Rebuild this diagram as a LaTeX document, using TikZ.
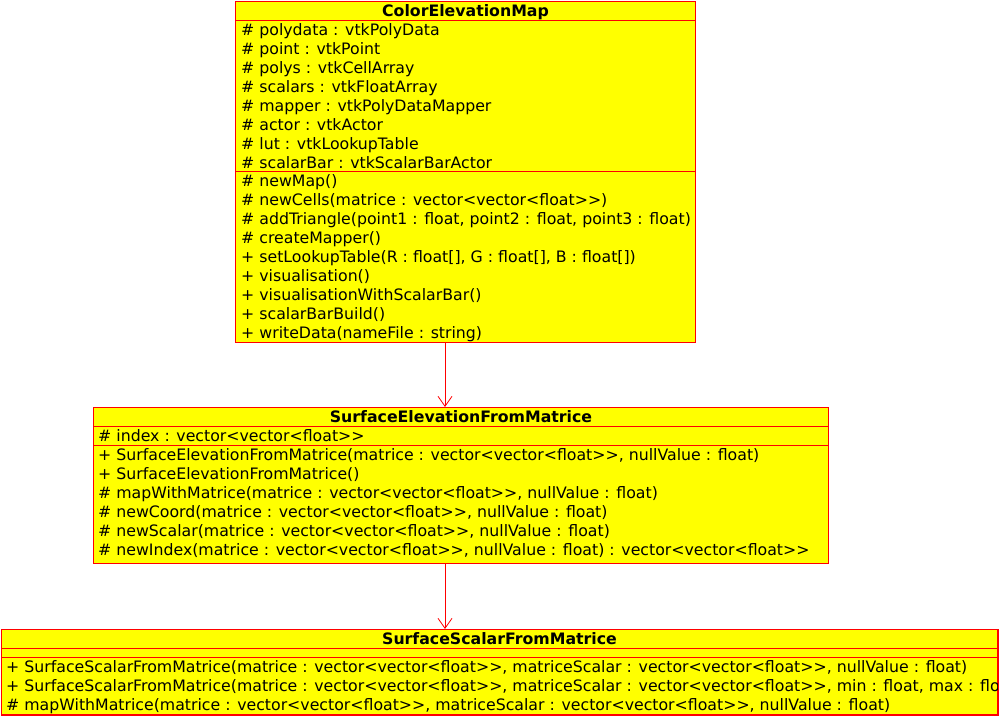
\documentclass[tikz,border=0pt]{standalone}
\usepackage{fontspec}
\setmainfont{DejaVu Sans}
\usetikzlibrary{positioning,arrows.meta,calc}
\definecolor{umlred}{RGB}{255,0,0}
\definecolor{umlyellow}{RGB}{255,255,0}

\begin{document}
\begin{tikzpicture}
  [
    x=1pt, y=-1pt,
    font=\fontsize{15.75}{18}\selectfont,
    class box/.style={draw=umlred, fill=umlyellow, line width=1pt, inner sep=0pt, anchor=north west},
    class title/.style={font=\fontsize{15.75}{18}\selectfont\bfseries, inner sep=0pt, text height=11.5pt, text depth=0.5pt},
    member/.style={anchor=west, inner sep=0pt, text height=11.5pt, text depth=0.5pt},
    sep line/.style={draw=umlred, line width=1pt},
    dep arrow/.style={draw=umlred, line width=0.8pt, -{Straight Barb[length=10pt,width=14pt]}},
  ]

  \useasboundingbox (0,0) rectangle (1000,715);
  \coordinate (arrx) at (445,0);

  % ColorElevationMap
  \node[class box, minimum width=460pt, minimum height=341pt] (cem) at (235,1) {};
  \node[class title] at ($(cem.north)+(0,9.5)$) {ColorElevationMap};
  \draw[sep line] ($(cem.north west)+(0,19)$) -- ($(cem.north east)+(0,19)$);
  \draw[sep line] ($(cem.north west)+(0,170)$) -- ($(cem.north east)+(0,170)$);
  \foreach \txt [count=\i] in {{\# polydata : vtkPolyData}, {\# point : vtkPoint},
      {\# polys : vtkCellArray}, {\# scalars : vtkFloatArray},
      {\# mapper : vtkPolyDataMapper}, {\# actor : vtkActor},
      {\# lut : vtkLookupTable}, {\# scalarBar : vtkScalarBarActor}}
    \node[member] at ($(cem.north west)+(6,9.5+19*\i)$) {\txt};
  \foreach \txt [count=\i] in {{\# newMap()},
      {\# newCells(matrice : vector<vector<float>{}>)},
      {\# addTriangle(point1 : float, point2 : float, point3 : float)},
      {\# createMapper()},
      {+ setLookupTable(R : float[], G : float[], B : float[])},
      {+ visualisation()}, {+ visualisationWithScalarBar()},
      {+ scalarBarBuild()}, {+ writeData(nameFile : string)}}
    \node[member] at ($(cem.north west)+(6,160.5+19*\i)$) {\txt};

  % SurfaceElevationFromMatrice
  \node[class box, minimum width=735pt, minimum height=156pt] (sefm) at (93,407) {};
  \node[class title] at ($(sefm.north)+(0,9.5)$) {SurfaceElevationFromMatrice};
  \draw[sep line] ($(sefm.north west)+(0,19)$) -- ($(sefm.north east)+(0,19)$);
  \draw[sep line] ($(sefm.north west)+(0,38)$) -- ($(sefm.north east)+(0,38)$);
  \node[member] at ($(sefm.north west)+(5,28.5)$) {\# index : vector<vector<float>{}>};
  \foreach \txt [count=\i] in {
      {+ SurfaceElevationFromMatrice(matrice : vector<vector<float>{}>, nullValue : float)},
      {+ SurfaceElevationFromMatrice()},
      {\# mapWithMatrice(matrice : vector<vector<float>{}>, nullValue : float)},
      {\# newCoord(matrice : vector<vector<float>{}>, nullValue : float)},
      {\# newScalar(matrice : vector<vector<float>{}>, nullValue : float)},
      {\# newIndex(matrice : vector<vector<float>{}>, nullValue : float) : vector<vector<float>{}>}}
    \node[member] at ($(sefm.north west)+(5,28.5+19*\i)$) {\txt};

  % SurfaceScalarFromMatrice
  \node[class box, minimum width=996pt, minimum height=85pt] (ssfm) at (1,629) {};
  \node[class title] at ($(ssfm.north)+(0,9.5)$) {SurfaceScalarFromMatrice};
  \draw[sep line] ($(ssfm.north west)+(0,19)$) -- ($(ssfm.north east)+(0,19)$);
  \draw[sep line] ($(ssfm.north west)+(0,28)$) -- ($(ssfm.north east)+(0,28)$);
  \begin{scope}
    \clip (ssfm.north west) rectangle (ssfm.south east);
    \foreach \txt [count=\i] in {
        {+ SurfaceScalarFromMatrice(matrice : vector<vector<float>{}>, matriceScalar : vector<vector<float>{}>, nullValue : float)},
        {+ SurfaceScalarFromMatrice(matrice : vector<vector<float>{}>, matriceScalar : vector<vector<float>{}>, min : float, max : float, nullValue : float)},
        {\# mapWithMatrice(matrice : vector<vector<float>{}>, matriceScalar : vector<vector<float>{}>, nullValue : float)}}
      \node[member] at ($(ssfm.north west)+(5,18.5+19*\i)$) {\txt};
  \end{scope}
  \draw[umlred, line width=1pt] (ssfm.north west) rectangle (ssfm.south east);

  % dependencies
  \draw[dep arrow] (cem.south -| arrx) -- (sefm.north -| arrx);
  \draw[dep arrow] (sefm.south -| arrx) -- (ssfm.north -| arrx);

\end{tikzpicture}
\end{document}
